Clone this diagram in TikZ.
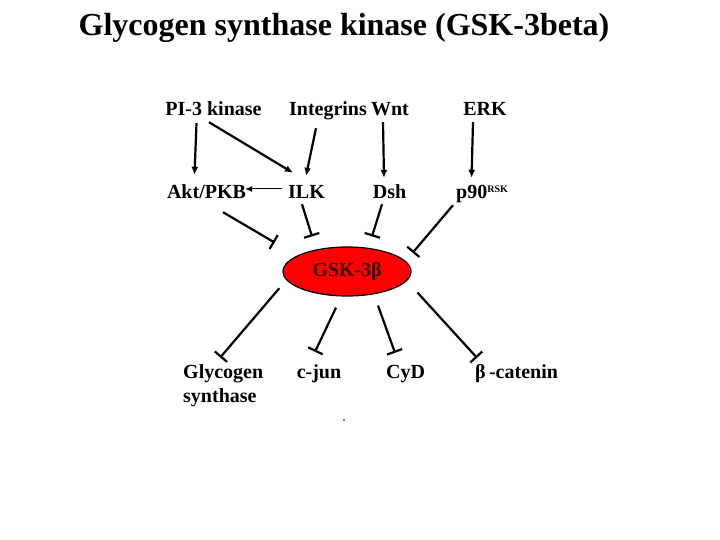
\documentclass[tikz,border=0pt]{standalone}
\usepackage{fontspec}
\setmainfont{Liberation Serif}
\usetikzlibrary{arrows.meta,shapes.geometric}

\begin{document}
\begin{tikzpicture}[x=1pt, y=-1pt,
          lbl/.style={font=\fontsize{20}{24}\selectfont\bfseries, inner sep=0pt, text height=14pt, text depth=4pt},
          hub/.style={ellipse, draw=black, line width=1.2pt, fill=red, inner sep=0pt,
                      minimum width=128pt, minimum height=49pt,
                      text=red!22!black, font=\fontsize{20}{24}\selectfont\bfseries, text height=14pt, text depth=4pt},
          act/.style={line width=2.2pt, -{Latex[length=8pt,width=7pt]}},
          inh/.style={line width=2.2pt, -{Bar[width=16pt]}},
          thinact/.style={line width=1pt, -{Latex[length=7pt,width=6pt]}}]
        \useasboundingbox (0,0) rectangle (720,540);
        \node[font=\fontsize{32}{38}\selectfont\bfseries, inner sep=0pt, anchor=base] (title) at (344,36) {Glycogen synthase kinase (GSK-3beta)};
        % upstream row
        \node[lbl] (pi3) at (213.5,111) {PI-3 kinase};
        \node[lbl] (integ) at (328,111) {Integrins};
        \node[lbl] (wnt) at (390,111) {Wnt};
        \node[lbl] (erk) at (485,111) {ERK};
        % second row
        \node[lbl] (akt) at (206.5,194) {Akt/PKB};
        \node[lbl] (ilk) at (306.5,194) {ILK};
        \node[lbl] (dsh) at (389.5,194) {Dsh};
        \node[lbl, anchor=west] (p90) at (456,194) {p90\raisebox{6.5pt}{\fontsize{10}{12}\selectfont RSK}};
        % kinase
        \node[hub] (gsk) at (347,271.5) {GSK-3β};
        % targets
        \node[font=\fontsize{20}{24}\selectfont\bfseries, inner sep=0pt, align=left, anchor=north west] (glyc) at (183,364.5) {Glycogen\\synthase};
        \node[lbl] (cjun) at (319,373) {c-jun};
        \node[lbl] (cyd) at (405.5,373) {CyD};
        \node[lbl, anchor=west] (bcat) at (475,373) {β\,-catenin};
        \fill (344,420) circle (0.8pt);

        \draw[act] ([xshift=-17pt,yshift=-3pt]pi3.south) -- ([xshift=-12pt,yshift=10pt]akt.north);
        \draw[act] ([xshift=-4.5pt,yshift=-2pt]pi3.south) -- ([xshift=-13.5pt,yshift=12pt]ilk.north);
        \draw[act] ([xshift=-12pt,yshift=-8pt]integ.south) -- ([xshift=-0.5pt,yshift=9pt]ilk.north);
        \draw[act] ([xshift=-7pt,yshift=-2pt]wnt.south) -- ([xshift=-5.5pt,yshift=7pt]dsh.north);
        \draw[act] ([xshift=-12pt,yshift=-2pt]erk.south) -- ([xshift=-10.5pt,yshift=7pt]p90.north);
        \draw[thinact] ([xshift=-6pt,yshift=5pt]ilk.west) -- ([xshift=-1pt,yshift=5pt]akt.east);

        \draw[inh] ([xshift=16.5pt,yshift=-9pt]akt.south) -- ([xshift=-26.7pt,yshift=11.2pt]gsk.north west);
        \draw[inh] ([xshift=-4.5pt,yshift=-1pt]ilk.south) -- ([xshift=-35pt,yshift=10pt]gsk.north);
        \draw[inh] ([xshift=-7.5pt,yshift=-1pt]dsh.south) -- ([xshift=25pt,yshift=10pt]gsk.north);
        \draw[inh] ([xshift=-3pt,yshift=-2pt]p90.south west) -- ([xshift=20pt,yshift=1pt]gsk.north east);

        \draw[inh] ([xshift=-22pt,yshift=1pt]gsk.south west) -- ([xshift=-3pt,yshift=7pt]glyc.north);
        \draw[inh] ([xshift=-11pt,yshift=-11pt]gsk.south) -- ([xshift=-4pt,yshift=12pt]cjun.north);
        \draw[inh] ([xshift=31pt,yshift=-9pt]gsk.south) -- ([xshift=-10.5pt,yshift=11pt]cyd.north);
        \draw[inh] ([xshift=24.7pt,yshift=-3.2pt]gsk.south east) -- ([xshift=2pt,yshift=6pt]bcat.north west);
      \end{tikzpicture}
\end{document}
